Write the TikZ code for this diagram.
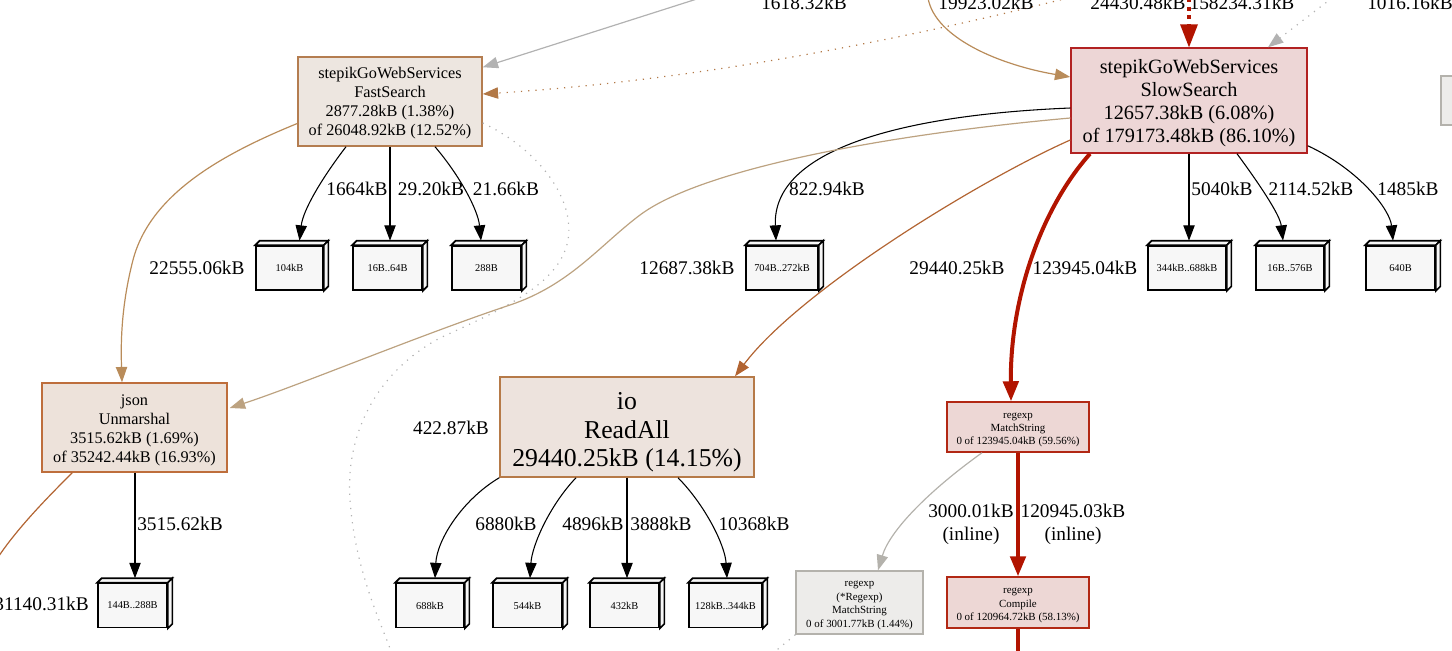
\documentclass[tikz,border=0pt]{standalone}
\usepackage{fontspec}
\setmainfont{Liberation Serif}
\usetikzlibrary{arrows.meta,calc}
\definecolor{fsfill}{RGB}{237,230,224}
\definecolor{fsline}{RGB}{180,125,80}
\definecolor{jsfill}{RGB}{237,226,218}
\definecolor{jsline}{RGB}{190,110,60}
\definecolor{rafill}{RGB}{237,227,221}
\definecolor{raline}{RGB}{182,122,72}
\definecolor{ssfill}{RGB}{237,214,214}
\definecolor{ssline}{RGB}{178,34,34}
\definecolor{rxfill}{RGB}{237,215,213}
\definecolor{rxline}{RGB}{178,40,20}
\definecolor{gyfill}{RGB}{237,236,234}
\definecolor{gyline}{RGB}{180,178,172}
\definecolor{cubefill}{RGB}{247,247,247}
\definecolor{egray}{RGB}{178,178,178}
\definecolor{eorange}{RGB}{178,120,70}
\definecolor{etan}{RGB}{185,140,90}
\definecolor{etanl}{RGB}{188,162,128}
\definecolor{ebrown}{RGB}{178,100,50}
\definecolor{ered}{RGB}{178,20,0}
\newcommand\cubenode[5]{%
  \node[cube,minimum width=#4*0.75pt] (#1) at (#2,#3) {#5};
  \filldraw[cubeline] (#1.north west) -- ++(4.5,-4.5) -- ($(#1.north east)+(4.5,-4.5)$) -- (#1.north east) -- cycle;
  \filldraw[cubeline] (#1.north east) -- ($(#1.north east)+(4.5,-4.5)$) -- ($(#1.south east)+(4.5,-4.5)$) -- (#1.south east) -- cycle;
}
\newcommand\topstrut[1]{\rule{0pt}{#1}}
\begin{document}
\begin{tikzpicture}[x=0.75pt,y=-0.75pt,
  fn/.style={draw,rectangle,align=center,inner sep=0pt,line width=1.1pt},
  cube/.style={draw,rectangle,fill=cubefill,line width=1.25pt,minimum height=44*0.75pt,inner sep=0pt,font=\fontsize{7.8}{9}\selectfont},
  cubeline/.style={draw=black,fill=cubefill,line width=1.25pt,line join=miter},
  lbl/.style={inner sep=0pt,align=center,font=\fontsize{14.5}{17.25}\selectfont},
  arr/.style={line width=0.8pt,-{Triangle[length=11.5pt,width=8.5pt]}},
  tip/.style={-{Triangle[length=11.5pt,width=8.5pt]}},
  redarr/.style={draw=ered,line width=3pt,-{Triangle[length=15pt,width=11.5pt]}},
  dotg/.style={draw=egray,line width=0.9pt,dash pattern=on 0.9pt off 4.5pt},
  doto/.style={draw=eorange,line width=0.9pt,dash pattern=on 0.9pt off 4.5pt},
]
\useasboundingbox (0,0) rectangle (1452,650);
\clip (0,0) rectangle (1452,650);

% ---------- function nodes ----------
\node[fn,fill=fsfill,draw=fsline,minimum width=184*0.75pt,minimum height=89*0.75pt,
  font=\fontsize{12.2}{14.3}\selectfont] (fs) at (390,101.5)
  {\topstrut{11.3pt}stepikGoWebServices\\FastSearch\\2877.28kB (1.38\%)\\of 26048.92kB (12.52\%)};
\node[fn,fill=ssfill,draw=ssline,minimum width=236*0.75pt,minimum height=105*0.75pt,
  font=\fontsize{15.2}{17.3}\selectfont] (ss) at (1189,100.5)
  {\topstrut{14.9pt}stepikGoWebServices\\SlowSearch\\12657.38kB (6.08\%)\\of 179173.48kB (86.10\%)};
\node[fn,fill=jsfill,draw=jsline,minimum width=185*0.75pt,minimum height=89*0.75pt,
  font=\fontsize{12.2}{14.3}\selectfont] (js) at (134.5,427.5)
  {\topstrut{12.8pt}json\\Unmarshal\\3515.62kB (1.69\%)\\of 35242.44kB (16.93\%)};
\node[fn,fill=rafill,draw=raline,minimum width=254*0.75pt,minimum height=100*0.75pt,
  font=\fontsize{19.3}{21.4}\selectfont] (ra) at (627,427)
  {\topstrut{20.7pt}io\\ReadAll\\29440.25kB (14.15\%)};
\node[fn,fill=rxfill,draw=rxline,minimum width=142*0.75pt,minimum height=50*0.75pt,
  font=\fontsize{8.2}{10.1}\selectfont] (ms) at (1018,427)
  {\topstrut{8.5pt}regexp\\MatchString\\0 of 123945.04kB (59.56\%)};
\node[fn,fill=gyfill,draw=gyline,minimum width=127*0.75pt,minimum height=63*0.75pt,
  font=\fontsize{8.2}{10.1}\selectfont] (rms) at (859.5,602.5)
  {\topstrut{8.2pt}regexp\\(*Regexp)\\MatchString\\0 of 3001.77kB (1.44\%)};
\node[fn,fill=rxfill,draw=rxline,minimum width=142*0.75pt,minimum height=51*0.75pt,
  font=\fontsize{8.2}{10.1}\selectfont] (cp) at (1018,602.5)
  {\topstrut{8.5pt}regexp\\Compile\\0 of 120964.72kB (58.13\%)};
\node[fn,fill=gyfill,draw=gyline,minimum width=30*0.75pt,minimum height=49*0.75pt] (rp) at (1456,100.5) {};

% ---------- cubes ----------
\cubenode{bA}{289.5}{268}{67}{104kB}
\cubenode{bB}{387.5}{268}{69}{16B..64B}
\cubenode{bC}{486.5}{268}{69}{288B}
\cubenode{bD}{782}{268}{72}{704B..272kB}
\cubenode{bE}{1187}{268}{78}{344kB..688kB}
\cubenode{bF}{1290}{268}{68}{16B..576B}
\cubenode{bG}{1400.5}{268}{69}{640B}
\cubenode{bH}{132.5}{605.5}{69}{144B..288B}
\cubenode{bI}{430}{605.5}{68}{688kB}
\cubenode{bJ}{527.5}{605.5}{69}{544kB}
\cubenode{bK}{624.5}{605.5}{69}{432kB}
\cubenode{bL}{725.5}{605.5}{73}{128kB..344kB}

% ---------- free ends ----------
\coordinate (t1) at (700,-2);
\coordinate (t2) at (1068,-2);
\coordinate (t3) at (928,-2);
\coordinate (t4) at (1189,-2);
\coordinate (t5) at (1332,-2);
\coordinate (l1) at (-5,562);
\coordinate (d1) at (392,654);
\coordinate (d2) at (772,654);
\coordinate (d3) at (1018,654);

% ---------- edges in ----------
\draw[draw=egray,line width=0.9pt,tip,color=egray] (t1) -- ($(fs.north east)+(0,11)$);
\draw[doto,tip] (t2) .. controls (900,40) and (700,80) .. ($(fs.east)+(0,-7.5)$);
\draw[draw=etan,line width=0.9pt,tip,color=etan] (t3) .. controls (935,38) and (1000,65) .. ($(ss.west)+(0,-23.5)$);
\draw[draw=ered,line width=2.6pt,dash pattern=on 3pt off 3.5pt] (t4) -- ($(ss.north)+(0,-22)$);
\fill[ered] ($(ss.north)+(-9,-23)$) -- ($(ss.north)+(9,-23)$) -- (ss.north) -- cycle;
\draw[dotg,tip] (t5) -- ($(ss.north)+(79,0)$);

% ---------- FastSearch out ----------
\draw[arr] ($(fs.south)+(-44,0)$) .. controls (322,178) and (303,210) .. ($(bA.north)+(10,-4.5)$);
\draw[arr] (fs.south) -- ($(bB.north)+(2.5,-4.5)$);
\draw[arr] ($(fs.south)+(45,0)$) .. controls (460,176) and (478,210) .. ($(bC.north)+(-5.5,-4.5)$);
\draw[draw=etan,line width=0.9pt,tip,color=etan]
  ($(fs.west)+(0,22)$) .. controls (220,155) and (150,195) .. (133,260)
  .. controls (120,310) and (121,350) .. ($(js.north)+(-12.5,0)$);
\draw[dotg] ($(fs.east)+(0,21.5)$) .. controls (540,150) and (575,200) .. (568,240)
  .. controls (560,285) and (500,310) .. (440,338)
  .. controls (380,370) and (345,430) .. (350,500)
  .. controls (355,570) and (380,620) .. (d1);

% ---------- SlowSearch out ----------
\draw[arr] ($(ss.west)+(0,7.5)$) .. controls (900,115) and (772,150) .. ($(bD.north)+(-6,-4.5)$);
\draw[draw=etanl,line width=0.9pt,tip,color=etanl]
  ($(ss.west)+(0,17.5)$) .. controls (880,135) and (700,170) .. (640,215)
  .. controls (600,245) and (570,285) .. (510,305)
  .. controls (420,335) and (300,385) .. ($(js.east)+(2,-19.5)$);
\draw[draw=ebrown,line width=0.9pt,tip,color=ebrown]
  ($(ss.west)+(0,39.5)$) .. controls (980,180) and (800,290) .. ($(ra.north)+(108,0)$);
\draw[redarr] ($(ss.south)+(-99,0)$) .. controls (1040,210) and (1010,300) .. ($(ms.north)+(-7,0)$);
\draw[arr] (ss.south) -- ($(bE.north)+(2,-4.5)$);
\draw[arr] ($(ss.south)+(48,0)$) .. controls (1260,185) and (1280,215) .. ($(bF.north)+(-7,-4.5)$);
\draw[arr] ($(ss.south east)+(0,-8)$) .. controls (1360,170) and (1390,210) .. ($(bG.north)+(-7.5,-4.5)$);

% ---------- json out ----------
\draw[arr] ($(js.south)+(0.5,0)$) -- ($(bH.north)+(2.5,-4.5)$);
\draw[draw=ebrown,line width=0.9pt] ($(js.south west)+(31,0)$) .. controls (50,495) and (15,530) .. (l1);

% ---------- ReadAll out ----------
\draw[arr] (ra.south west) .. controls (462,500) and (437,540) .. ($(bI.north)+(5,-4.5)$);
\draw[arr] ($(ra.south)+(-51,0)$) .. controls (550,505) and (532,545) .. ($(bJ.north)+(2.5,-4.5)$);
\draw[arr] (ra.south) -- ($(bK.north)+(2.5,-4.5)$);
\draw[arr] ($(ra.south)+(51,0)$) .. controls (705,505) and (725,545) .. ($(bL.north)+(1.5,-4.5)$);

% ---------- regexp ----------
\draw[draw=gyline,line width=0.9pt,tip,color=gyline]
  ($(ms.south)+(-36,0)$) .. controls (930,490) and (890,530) .. ($(rms.north)+(18.5,0)$);
\draw[redarr] (ms.south) -- (cp.north);
\draw[draw=ered,line width=3pt] (cp.south) -- (d3);
\draw[dotg] (rms.south west) -- (d2);

% ---------- labels ----------
\node[lbl,anchor=base] (a1) at (804,9.3) {1618.32kB};
\node[lbl,anchor=base] (a2) at (986,9.3) {19923.02kB};
\node[lbl,anchor=base] (a3) at (1138,9.3) {24430.48kB};
\node[lbl,anchor=base] (a4) at (1242,9.3) {158234.31kB};
\node[lbl,anchor=base] (a5) at (1410,9.3) {1016.16kB};
\node[lbl] (a6) at (357,189) {1664kB};
\node[lbl] (a7) at (431,189) {29.20kB};
\node[lbl] (a8) at (506,189) {21.66kB};
\node[lbl] (a9) at (197,268) {22555.06kB};
\node[lbl] (a10) at (687,268) {12687.38kB};
\node[lbl] (a11) at (827,189) {822.94kB};
\node[lbl] (a12) at (957,268) {29440.25kB};
\node[lbl] (a13) at (1085,268) {123945.04kB};
\node[lbl] (a14) at (1222,189) {5040kB};
\node[lbl] (a15) at (1311,189) {2114.52kB};
\node[lbl] (a16) at (1408,189) {1485kB};
\node[lbl] (a17) at (451,428) {422.87kB};
\node[lbl] (a18) at (180,524) {3515.62kB};
\node[lbl] (a19) at (506,524) {6880kB};
\node[lbl] (a20) at (593,524) {4896kB};
\node[lbl] (a21) at (661,524) {3888kB};
\node[lbl] (a22) at (754,524) {10368kB};
\node[lbl] (a23) at (971,524) {3000.01kB\\(inline)};
\node[lbl] (a24) at (1073,524) {120945.03kB\\(inline)};
\node[lbl,anchor=east] (a25) at (89,604) {31140.31kB};
\end{tikzpicture}
\end{document}
